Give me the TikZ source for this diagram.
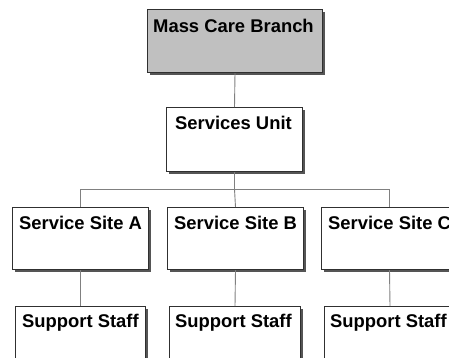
\documentclass[tikz,border=0pt]{standalone}
\usepackage{fontspec}
\setmainfont{Liberation Sans}
\usetikzlibrary{shadows}
\definecolor{boxgray}{HTML}{C0C0C0}
\definecolor{edge}{HTML}{303030}
\definecolor{shade}{HTML}{555555}
\definecolor{wire}{HTML}{808080}
\tikzset{
  orgbox/.style={draw=edge, line width=1pt, fill=white, anchor=north west, inner sep=0pt,
    drop shadow={shadow xshift=2.5pt, shadow yshift=-2.5pt, fill=shade, opacity=1}},
  boxtext/.style={anchor=base west, inner sep=0pt, font=\fontsize{18.4}{20}\selectfont\bfseries},
  wireline/.style={draw=wire, line width=0.9pt}
}
\begin{document}
\begin{tikzpicture}[x=1pt,y=-1pt]
\useasboundingbox (0,0) rectangle (449,357);
\clip (0,0) rectangle (449,357);
\fill[white] (0,0) rectangle (449,357);
% boxes
\node[orgbox, fill=boxgray, minimum width=175pt, minimum height=63pt] (mcb) at (147,9) {};
\node[orgbox, minimum width=136pt, minimum height=64pt] (su) at (166,107) {};
\node[orgbox, minimum width=136pt, minimum height=62pt] (sa) at (12,207) {};
\node[orgbox, minimum width=136pt, minimum height=62pt] (sb) at (167,207) {};
\node[orgbox, minimum width=136pt, minimum height=62pt] (sc) at (321,207) {};
\node[orgbox, minimum width=130pt, minimum height=70pt] (pa) at (15,306) {};
\node[orgbox, minimum width=131pt, minimum height=70pt] (pb) at (169,306) {};
\node[orgbox, minimum width=131pt, minimum height=70pt] (pc) at (324,306) {};
% texts
\node[boxtext] (mcbt) at ([xshift=6pt,yshift=-23.5pt]mcb.north west) {Mass Care Branch};
\node[boxtext] (sut) at ([xshift=9pt,yshift=-22.5pt]su.north west) {Services Unit};
\node[boxtext] (sat) at ([xshift=7pt,yshift=-22.5pt]sa.north west) {Service Site A};
\node[boxtext] (sbt) at ([xshift=7pt,yshift=-22.5pt]sb.north west) {Service Site B};
\node[boxtext] (sct) at ([xshift=7pt,yshift=-22.5pt]sc.north west) {Service Site C};
\node[boxtext] (pat) at ([xshift=7pt,yshift=-21.5pt]pa.north west) {Support Staff};
\node[boxtext] (pbt) at ([xshift=6pt,yshift=-21.5pt]pb.north west) {Support Staff};
\node[boxtext] (pct) at ([xshift=6pt,yshift=-21.5pt]pc.north west) {Support Staff};
% connectors
\coordinate (bus) at (su.south |- 0,189);
\draw[wireline] (mcb.south) -- (su.north);
\draw[wireline] (su.south) -- (bus);
\draw[wireline] (bus) -| (sa.north);
\draw[wireline] (bus) -| (sc.north);
\draw[wireline] (bus) -- (sb.north);
\draw[wireline] (sa.south) -- (pa.north);
\draw[wireline] (sb.south) -- (pb.north);
\draw[wireline] (sc.south) -- (pc.north);
\end{tikzpicture}
\end{document}
